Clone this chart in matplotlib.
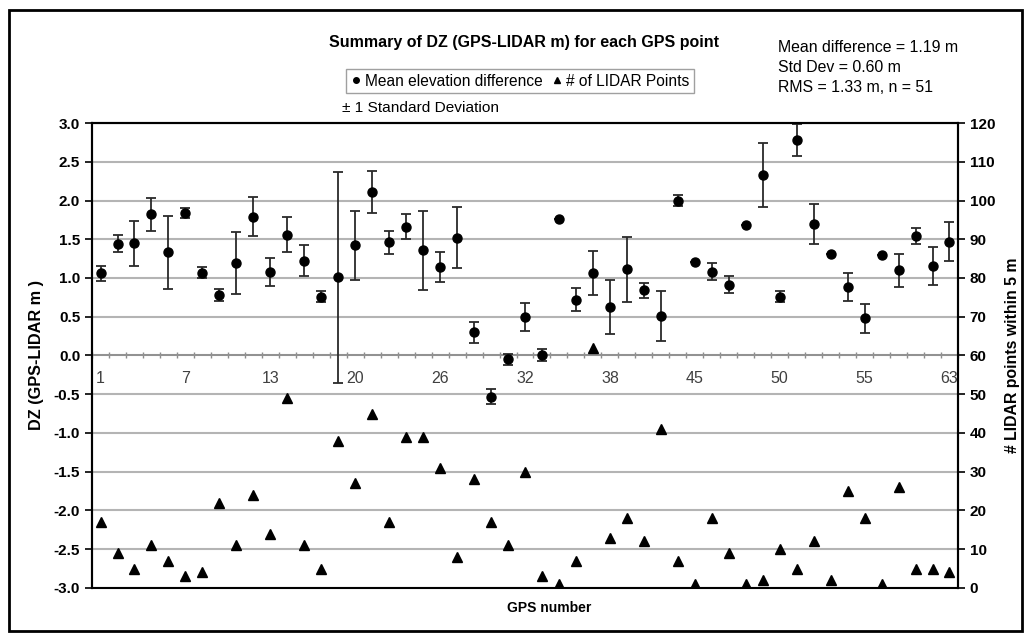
import numpy as np
import matplotlib
matplotlib.use("Agg")
import matplotlib.pyplot as plt
from matplotlib.lines import Line2D
from matplotlib.patches import Rectangle

plt.rcParams['font.family'] = ['Liberation Sans', 'DejaVu Sans']

# mean DZ (GPS - LIDAR, m) and its standard deviation for each GPS point
dz_mean = [1.06, 1.44, 1.45, 1.82, 1.33, 1.84, 1.07, 0.78, 1.19, 1.79,
           1.08, 1.56, 1.22, 0.76, 1.01, 1.42, 2.11, 1.46, 1.66, 1.36,
           1.14, 1.52, 0.30, -0.53, -0.05, 0.50, 0.01, 1.76, 0.72, 1.06,
           0.63, 1.11, 0.84, 0.51, 2.00, 1.20, 1.08, 0.91, 1.69, 2.33,
           0.76, 2.78, 1.70, 1.31, 0.88, 0.48, 1.30, 1.10, 1.54, 1.16, 1.47]
dz_sd = [0.10, 0.11, 0.29, 0.21, 0.47, 0.065, 0.075, 0.08, 0.40, 0.25,
         0.18, 0.23, 0.20, 0.075, 1.36, 0.45, 0.275, 0.15, 0.16, 0.51,
         0.195, 0.39, 0.135, 0.10, 0.075, 0.18, 0.075, 0.0, 0.145, 0.285,
         0.35, 0.42, 0.10, 0.32, 0.07, 0.0, 0.11, 0.11, 0.0, 0.41,
         0.07, 0.21, 0.26, 0.0, 0.18, 0.19, 0.0, 0.215, 0.10, 0.245, 0.255]
# number of LIDAR points within 5 m of each GPS point
lidar_count = [17, 9, 5, 11, 7, 3, 4, 22, 11, 24,
               14, 49, 11, 5, 38, 27, 45, 17, 39, 39,
               31, 8, 28, 17, 11, 30, 3, 1, 7, 62,
               13, 18, 12, 41, 7, 1, 18, 9, 1, 2,
               10, 5, 12, 2, 25, 18, 1, 26, 5, 5, 4]
# GPS numbers labelled on the axis (every 5th category)
gps_tick_labels = ['1', '7', '13', '20', '26', '32', '38', '45', '50', '55', '63']
stats_lines = ['Mean difference = 1.19 m', 'Std Dev = 0.60 m', 'RMS = 1.33 m, n = 51']

x = np.arange(len(dz_mean))

fig = plt.figure(figsize=(10.26, 6.38), dpi=100)
ax = fig.add_axes([0.0897, 0.0784, 0.8440, 0.7288])
ax2 = ax.twinx()

# left axis: mean elevation difference with +/- 1 sd bars
ax.set_ylim(-3, 3)
ax.set_xlim(-0.5, len(x) - 0.5)
ax.set_yticks(np.arange(-3, 3.01, 0.5))
ax.set_yticklabels([f'{v:.1f}' for v in np.arange(-3, 3.01, 0.5)])
ax.yaxis.grid(True, color='#b4b4b4', lw=1.5)
ax.set_axisbelow(True)
ax.errorbar(x, dz_mean, yerr=dz_sd, fmt='o', color='black', ms=6.5,
            ecolor='#2a2a2a', elinewidth=1.3, capsize=3.5, capthick=1.3, zorder=3)

# category axis sits on the zero line
ax.spines['bottom'].set_position(('data', 0))
ax.spines['bottom'].set_color('#8c8c8c')
ax.spines['bottom'].set_linewidth(1.2)
ax.set_xticks(x[::5])
ax.set_xticklabels(gps_tick_labels)
ax.set_xticks(np.arange(-0.5, len(x), 1), minor=True)
ax.tick_params(axis='x', which='major', length=0, pad=11, labelsize=11.5, labelcolor='#404040')
ax.tick_params(axis='x', which='minor', length=4, width=1, color='#8c8c8c', direction='inout')
ax.tick_params(axis='y', length=5, width=1.2, labelsize=11)
for lbl in ax.get_yticklabels():
    lbl.set_fontweight('bold')
for side in ['left', 'top', 'right']:
    ax.spines[side].set_linewidth(1.5)
    ax.spines[side].set_color('black')
ax.set_ylabel('DZ (GPS-LIDAR m )', fontsize=11.7, fontweight='bold', labelpad=7)

# right axis: LIDAR point counts
ax2.set_ylim(0, 120)
ax2.set_yticks(np.arange(0, 121, 10))
ax2.plot(x, lidar_count, '^', color='black', ms=7.5, zorder=3)
ax2.tick_params(axis='y', length=5, width=1.2, labelsize=11)
for lbl in ax2.get_yticklabels():
    lbl.set_fontweight('bold')
for side in ['bottom', 'right', 'top', 'left']:
    ax2.spines[side].set_linewidth(1.5)
    ax2.spines[side].set_color('black')
ax2.set_ylabel('# LIDAR points within 5 m', fontsize=11.4, fontweight='bold', labelpad=7)

fig.text(0.535, 0.047, 'GPS number', ha='center', va='center', fontsize=10, fontweight='bold')
fig.text(0.511, 1 - 42 / 638, 'Summary of DZ (GPS-LIDAR m) for each GPS point',
         ha='center', va='center', fontsize=11.5, fontweight='bold')

handles = [Line2D([], [], marker='o', ls='none', color='black', ms=4),
           Line2D([], [], marker='^', ls='none', color='black', ms=5)]
fig.legend(handles, ['Mean elevation difference', '# of LIDAR Points'], ncol=2,
           loc='center', bbox_to_anchor=(520 / 1026, 1 - 81 / 638), fontsize=11.2,
           handlelength=0.6, handletextpad=0.3, columnspacing=0.6,
           borderpad=0.3, fancybox=False, edgecolor='#a0a0a0', framealpha=1)
fig.text(342 / 1026, 1 - 108 / 638, '\u00b1 1 Standard Deviation', va='center', fontsize=11.1)
for i, line in enumerate(stats_lines):
    fig.text(778 / 1026, 1 - (48 + 20 * i) / 638, line, va='center', ha='left', fontsize=11.4)

# outer frame around the whole chart
fig.patches.append(Rectangle((0.0088, 0.011), 0.987, 0.973, transform=fig.transFigure,
                             fill=False, lw=2, edgecolor='black'))

fig.savefig('out.png', dpi=100)
